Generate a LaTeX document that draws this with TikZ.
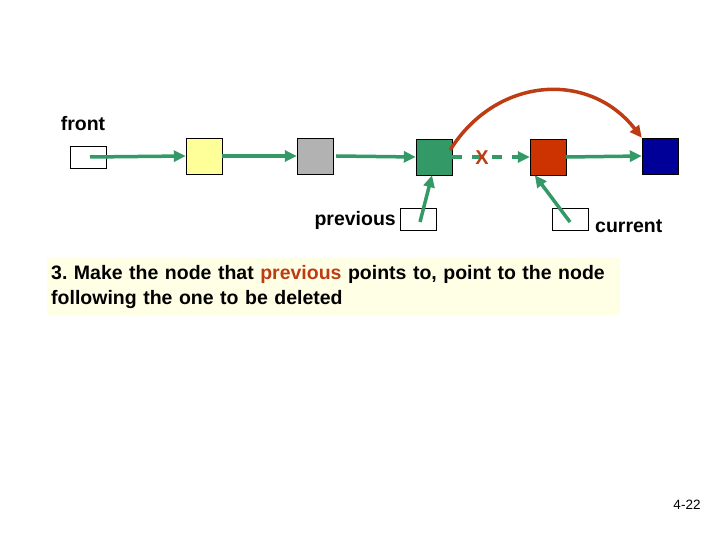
\documentclass[tikz,border=0pt]{standalone}
\usepackage{fontspec}
\setmainfont{Liberation Sans}
\definecolor{linkgreen}{RGB}{51,153,102}
\definecolor{pastelyellow}{RGB}{255,255,153}
\definecolor{midgray}{RGB}{178,178,178}
\definecolor{rust}{RGB}{204,51,0}
\definecolor{arcred}{RGB}{190,60,20}
\definecolor{navy}{RGB}{0,0,153}
\definecolor{notebg}{RGB}{255,255,229}
\usetikzlibrary{arrows.meta,positioning}

\begin{document}
\frenchspacing
\begin{tikzpicture}[x=1pt,y=-1pt,
      listnode/.style={draw=black,minimum size=36pt,inner sep=0pt},
      ptrbox/.style={draw=black,fill=white,minimum width=36pt,minimum height=22pt,inner sep=0pt},
      link/.style={draw=linkgreen,line width=3.5pt,-{Triangle[length=12pt,width=11pt]}},
      lbl/.style={font=\fontsize{19.5}{22}\selectfont\bfseries,inner sep=0pt}]
   \useasboundingbox (0,0) rectangle (720,540);
   % the list
   \node[ptrbox] (front) at (88,157) {};
   \node[lbl] (frontlbl) at (83,124) {front};
   \node[listnode,fill=pastelyellow] (n1) at (204,156) {};
   \node[listnode,fill=midgray] (n2) at (315,156) {};
   \node[listnode,fill=linkgreen] (n3) at (434,157) {};
   \node[listnode,fill=rust] (n4) at (548,157) {};
   \node[listnode,fill=navy] (n5) at (660,156) {};
   \draw[link] ([xshift=2pt]front.center) -- (n1.west);
   \draw[link] (n1.east) -- (n2.west);
   \draw[link] ([xshift=3pt]n2.east) -- (n3.west);
   \draw[link,dashed,dash pattern=on 10pt off 10pt] (n3.east) -- (n4.west);
   \draw[link] (n4.east) -- (n5.west);
   \node[text=arcred,font=\fontsize{20}{24}\selectfont\bfseries,inner sep=0pt] (cross) at (482,158) {X};
   % the pointers
   \node[ptrbox] (prev) at (418,219) {};
   \node[lbl,anchor=east] (prevlbl) at (396,220) {previous};
   \node[ptrbox] (cur) at (570,219) {};
   \node[lbl,anchor=west] (curlbl) at (595,226) {current};
   \draw[link] ([xshift=2pt,yshift=-3pt]prev.center) -- ([xshift=-2pt]n3.south);
   \draw[link] ([yshift=-3pt]cur.center) -- ([xshift=5pt]n4.south west);
   % new link
   \draw[arcred,line width=3.5pt,-{Triangle[length=12pt,width=11pt]}]
      ([xshift=-2pt,yshift=7pt]n3.east) to[out=58,in=128,looseness=1.15] (n5.north west);
   % note
   \node[fill=notebg,anchor=north west,minimum width=572pt,minimum height=57pt,
         text width=565pt,align=left,inner sep=0pt,inner xsep=4pt,
         font=\fontsize{19.5}{25}\selectfont\bfseries] (note) at (47,258)
      {3. Make the node that \textcolor{arcred}{previous} points to, point to the node\\following the one to be deleted};
   \node[font=\fontsize{13.5}{15}\selectfont] (page) at (687,505) {4-22};
\end{tikzpicture}
\end{document}
